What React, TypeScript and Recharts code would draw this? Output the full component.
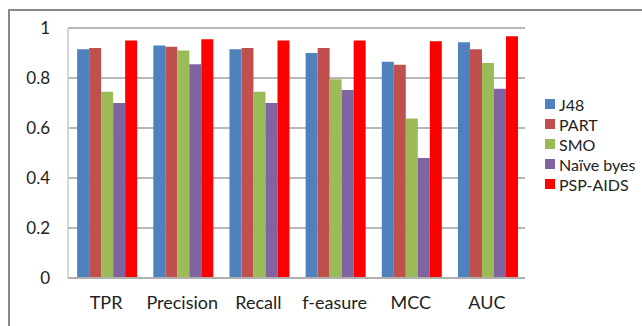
import React from "react";
import { BarChart, Bar, XAxis, YAxis, CartesianGrid } from "recharts";

const categories = ["TPR", "Precision", "Recall", "f-easure", "MCC", "AUC"];
const j48 = [0.915, 0.93, 0.915, 0.9, 0.865, 0.943];
const part = [0.92, 0.925, 0.92, 0.92, 0.853, 0.915];
const smo = [0.745, 0.91, 0.745, 0.795, 0.638, 0.86];
const naive = [0.7, 0.855, 0.7, 0.752, 0.48, 0.757];
const psp = [0.95, 0.955, 0.95, 0.95, 0.947, 0.967];
const yTicks = [0, 0.2, 0.4, 0.6, 0.8, 1];

const series = [
  { key: "J48", values: j48, color: "#4F81BD" },
  { key: "PART", values: part, color: "#C0504D" },
  { key: "SMO", values: smo, color: "#9BBB59" },
  { key: "Naïve byes", values: naive, color: "#8064A2" },
  { key: "PSP-AIDS", values: psp, color: "#FF0000" },
];

const data = categories.map((c, i) => {
  const row: Record<string, string | number> = { name: c };
  series.forEach((s) => {
    row[s.key] = s.values[i];
  });
  return row;
});

const FONT = "Lato, 'Open Sans', sans-serif";

const LegendBox = () => (
  <div style={{ position: "absolute", left: 545, top: 94, fontFamily: FONT, fontSize: 16, color: "#222" }}>
    {series.map((s) => (
      <div key={s.key} style={{ display: "flex", alignItems: "center", height: 20, whiteSpace: "nowrap" }}>
        <span style={{ width: 10, height: 10, background: s.color, display: "inline-block", marginRight: 4 }} />
        <span>{s.key}</span>
      </div>
    ))}
  </div>
);

export default function App() {
  return (
    <div style={{ position: "absolute", left: 0, top: 0, width: 642, height: 326, background: "#fff", overflow: "hidden" }}>
      <div
        style={{
          position: "absolute",
          left: 8,
          top: 9,
          width: 700,
          height: 400,
          borderTop: "2px solid #8a8a8a",
          borderLeft: "2px solid #8a8a8a",
        }}
      />
      <div style={{ position: "absolute", left: 0, top: 0 }}>
        <BarChart
          width={642}
          height={326}
          data={data}
          margin={{ top: 28, right: 117, bottom: 0, left: 0 }}
          barCategoryGap="12%"
          barGap={0}
        >
          <CartesianGrid vertical={false} stroke="#a0a0a0" strokeWidth={1.5} />
          <XAxis
            dataKey="name"
            height={48}
            tickLine={false}
            tickSize={0}
            tickMargin={18}
            axisLine={{ stroke: "#b0b0b0", strokeWidth: 2 }}
            tick={{ fontFamily: FONT, fontSize: 18, fill: "#222" }}
            interval={0}
          />
          <YAxis
            width={68}
            domain={[0, 1]}
            ticks={yTicks}
            tickLine={false}
            tickSize={0}
            tickMargin={18}
            axisLine={{ stroke: "#c8c8c8", strokeWidth: 1.5 }}
            tick={{ fontFamily: FONT, fontSize: 17, fill: "#222" }}
          />
          {series.map((s) => (
            <Bar key={s.key} dataKey={s.key} fill={s.color} isAnimationActive={false} />
          ))}
        </BarChart>
      </div>
      <LegendBox />
    </div>
  );
}
